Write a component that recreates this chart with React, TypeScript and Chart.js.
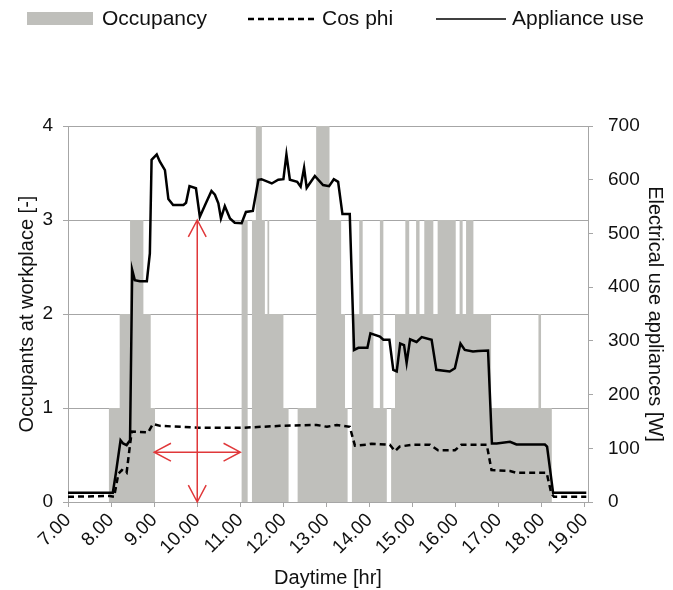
import { useEffect, useRef } from 'react';
import { Chart, registerables } from 'chart.js';

Chart.register(...registerables);

const hourTicks = [7, 8, 9, 10, 11, 12, 13, 14, 15, 16, 17, 18, 19];
const hourTickLabels = ['7.00', '8.00', '9.00', '10.00', '11.00', '12.00', '13.00', '14.00', '15.00', '16.00', '17.00', '18.00', '19.00'];

// Occupancy: each level holds from its time until the next time
const occupancyTimes = [7.0, 7.95, 8.2, 8.44, 8.75, 8.92, 9.02, 11.03, 11.17, 11.27, 11.36, 11.5, 11.57, 11.63, 11.67, 12.0, 12.12, 12.33, 12.76, 13.07, 13.34, 13.43, 13.49, 13.59, 13.76, 13.84, 14.09, 14.24, 14.32, 14.4, 14.5, 14.59, 14.83, 14.92, 15.08, 15.16, 15.27, 15.48, 15.58, 16.0, 16.09, 16.16, 16.24, 16.41, 16.82, 17.92, 17.98, 18.23, 19.07];
const occupancyLevels = [0, 1, 2, 3, 2, 1, 0, 3, 0, 3, 4, 3, 2, 3, 2, 1, 0, 1, 4, 3, 2, 1, 0, 2, 3, 2, 1, 3, 1, 0, 1, 2, 3, 2, 3, 2, 3, 2, 3, 2, 3, 2, 3, 2, 1, 2, 1, 0, 0];

const applianceTimes = [7.0, 7.97, 8.04, 8.11, 8.22, 8.28, 8.36, 8.44, 8.49, 8.55, 8.67, 8.83, 8.9, 8.94, 9.06, 9.13, 9.25, 9.33, 9.44, 9.68, 9.74, 9.82, 9.97, 10.06, 10.2, 10.33, 10.41, 10.49, 10.55, 10.64, 10.76, 10.87, 11.03, 11.13, 11.29, 11.42, 11.49, 11.73, 11.88, 12.0, 12.07, 12.15, 12.32, 12.4, 12.48, 12.54, 12.73, 12.92, 13.06, 13.17, 13.27, 13.37, 13.54, 13.64, 13.74, 13.95, 14.02, 14.24, 14.32, 14.46, 14.55, 14.63, 14.71, 14.8, 14.86, 14.94, 15.09, 15.21, 15.44, 15.55, 15.86, 15.98, 16.11, 16.21, 16.4, 16.52, 16.75, 16.84, 16.95, 17.26, 17.41, 18.07, 18.12, 18.26, 19.03];
const applianceWatts = [17, 17, 17, 53, 115, 109, 106, 115, 432, 413, 411, 411, 463, 637, 647, 634, 618, 564, 553, 553, 557, 588, 584, 531, 556, 579, 572, 556, 528, 551, 528, 520, 519, 540, 542, 600, 601, 593, 600, 601, 647, 600, 596, 587, 622, 585, 607, 590, 588, 601, 596, 536, 536, 283, 287, 287, 314, 308, 302, 302, 246, 243, 295, 292, 259, 303, 298, 307, 302, 246, 243, 249, 295, 283, 280, 281, 282, 109, 109, 112, 107, 107, 103, 17, 17];

const cosPhiTimes = [7.0, 7.97, 8.07, 8.17, 8.25, 8.36, 8.44, 8.48, 8.86, 8.97, 9.14, 10.03, 10.61, 11.07, 11.92, 12.77, 13.01, 13.24, 13.54, 13.66, 13.93, 14.05, 14.47, 14.59, 14.7, 15.01, 15.4, 15.59, 15.98, 16.13, 16.72, 16.83, 17.26, 17.41, 18.11, 18.22, 18.28, 19.03];
const cosPhiValues = [0.056, 0.064, 0.056, 0.3, 0.34, 0.31, 0.61, 0.75, 0.74, 0.83, 0.81, 0.79, 0.79, 0.79, 0.81, 0.82, 0.8, 0.82, 0.8, 0.6, 0.61, 0.62, 0.61, 0.54, 0.59, 0.61, 0.61, 0.55, 0.55, 0.61, 0.61, 0.34, 0.33, 0.31, 0.31, 0.09, 0.056, 0.056];

// Red annotation arrows (x in hours, y in occupants)
const verticalArrowX = [10.0, 10.0];
const verticalArrowY = [0, 3];
const horizontalArrowX = [9.0, 11.0];
const horizontalArrowY = [0.53, 0.53];

const FONT = "'Liberation Sans', Arial, sans-serif";
const GRID = '#a6a6a6';
const TEXT = '#111111';
const OCC_FILL = '#bfbfbb';

function drawArrow(ctx: CanvasRenderingContext2D, x1: number, y1: number, x2: number, y2: number) {
  const head = 19;
  const ang = (28 * Math.PI) / 180;
  ctx.beginPath();
  ctx.moveTo(x1, y1);
  ctx.lineTo(x2, y2);
  const ends: [number, number, number, number][] = [
    [x2, y2, x1, y1],
    [x1, y1, x2, y2],
  ];
  for (const [tx, ty, fx, fy] of ends) {
    const a = Math.atan2(ty - fy, tx - fx);
    ctx.moveTo(tx - head * Math.cos(a - ang), ty - head * Math.sin(a - ang));
    ctx.lineTo(tx, ty);
    ctx.lineTo(tx - head * Math.cos(a + ang), ty - head * Math.sin(a + ang));
  }
  ctx.stroke();
}

const arrowPlugin = {
  id: 'arrows',
  afterDatasetsDraw(chart: any) {
    const { ctx, scales } = chart;
    const x = scales.x;
    const y = scales.y;
    ctx.save();
    ctx.strokeStyle = '#e0383a';
    ctx.lineWidth = 1.5;
    drawArrow(ctx, x.getPixelForValue(verticalArrowX[0]), y.getPixelForValue(verticalArrowY[0]), x.getPixelForValue(verticalArrowX[1]), y.getPixelForValue(verticalArrowY[1]));
    drawArrow(ctx, x.getPixelForValue(horizontalArrowX[0]), y.getPixelForValue(horizontalArrowY[0]), x.getPixelForValue(horizontalArrowX[1]), y.getPixelForValue(horizontalArrowY[1]));
    ctx.restore();
  },
};

const legendPlugin = {
  id: 'customLegend',
  afterDraw(chart: any) {
    const { ctx } = chart;
    const ds = chart.data.datasets;
    ctx.save();
    ctx.font = `21px ${FONT}`;
    ctx.fillStyle = TEXT;
    ctx.textBaseline = 'middle';
    ctx.textAlign = 'left';
    // Occupancy
    ctx.fillStyle = ds[2].backgroundColor;
    ctx.fillRect(27, 12, 66, 13);
    ctx.fillStyle = TEXT;
    ctx.fillText(ds[2].label, 102, 19);
    // Cos phi
    ctx.strokeStyle = ds[1].borderColor;
    ctx.lineWidth = 2.5;
    ctx.setLineDash(ds[1].borderDash);
    ctx.beginPath();
    ctx.moveTo(248, 19);
    ctx.lineTo(318, 19);
    ctx.stroke();
    ctx.setLineDash([]);
    ctx.fillText(ds[1].label, 322, 19);
    // Appliance use
    ctx.strokeStyle = ds[0].borderColor;
    ctx.lineWidth = 1.5;
    ctx.beginPath();
    ctx.moveTo(436, 19);
    ctx.lineTo(506, 19);
    ctx.stroke();
    ctx.fillText(ds[0].label, 512, 19);
    ctx.restore();
  },
};

export default function App() {
  const ref = useRef<HTMLCanvasElement | null>(null);
  useEffect(() => {
    if (!ref.current) return;
    const chart = new Chart(ref.current, {
      type: 'line',
      data: {
        datasets: [
          {
            label: 'Appliance use',
            data: applianceTimes.map((t, i) => ({ x: t, y: applianceWatts[i] })),
            yAxisID: 'y1',
            borderColor: '#000000',
            borderWidth: 2.5,
            pointRadius: 0,
            fill: false,
            tension: 0,
            order: 0,
          },
          {
            label: 'Cos phi',
            data: cosPhiTimes.map((t, i) => ({ x: t, y: cosPhiValues[i] })),
            yAxisID: 'y',
            borderColor: '#000000',
            borderWidth: 2.5,
            borderDash: [6, 4],
            pointRadius: 0,
            fill: false,
            tension: 0,
            order: 1,
          },
          {
            label: 'Occupancy',
            data: occupancyTimes.map((t, i) => ({ x: t, y: occupancyLevels[i] })),
            yAxisID: 'y',
            stepped: true,
            borderWidth: 0,
            borderColor: 'rgba(0,0,0,0)',
            backgroundColor: OCC_FILL,
            fill: 'origin',
            pointRadius: 0,
            order: 2,
          },
        ],
      },
      options: {
        responsive: false,
        animation: false,
        devicePixelRatio: 1,
        layout: { padding: { top: 126, left: 0, right: 0, bottom: 0 } },
        plugins: {
          legend: { display: false },
          tooltip: { enabled: false },
        },
        scales: {
          x: {
            type: 'linear',
            position: 'bottom',
            min: 7,
            max: 19.07,
            afterBuildTicks: (scale: any) => {
              scale.ticks = hourTicks.map((v) => ({ value: v }));
            },
            afterFit: (scale: any) => {
              scale.height = 88;
            },
            ticks: {
              autoSkip: false,
              maxRotation: 45,
              minRotation: 45,
              padding: 2,
              color: TEXT,
              font: { family: FONT, size: 19 },
              callback: (_v: any, i: number) => hourTickLabels[i],
            },
            grid: { drawOnChartArea: false, drawTicks: true, tickLength: 5, color: GRID },
            border: { display: true, color: GRID, width: 1 },
            title: {
              display: true,
              text: 'Daytime [hr]',
              color: TEXT,
              font: { family: FONT, size: 20 },
              padding: { top: 0, bottom: 0 },
            },
          },
          y: {
            type: 'linear',
            position: 'left',
            min: 0,
            max: 4,
            afterFit: (scale: any) => {
              scale.width = 68;
            },
            ticks: {
              stepSize: 1,
              padding: 10,
              color: TEXT,
              font: { family: FONT, size: 19 },
            },
            grid: { color: GRID, lineWidth: 1, drawTicks: true, tickLength: 5 },
            border: { display: true, color: GRID, width: 1 },
            title: {
              display: true,
              text: 'Occupants at workplace [-]',
              color: TEXT,
              font: { family: FONT, size: 20 },
              padding: { top: 15, bottom: 0 },
            },
          },
          y1: {
            type: 'linear',
            position: 'right',
            min: 0,
            max: 700,
            afterFit: (scale: any) => {
              scale.width = 85;
            },
            ticks: {
              stepSize: 100,
              padding: 15,
              color: TEXT,
              font: { family: FONT, size: 19 },
            },
            grid: { drawOnChartArea: false, drawTicks: true, tickLength: 5, color: GRID },
            border: { display: true, color: GRID, width: 1 },
            title: {
              display: true,
              text: 'Electrical use appliances [W]',
              color: TEXT,
              font: { family: FONT, size: 20 },
              padding: { top: 6, bottom: 0 },
            },
          },
        },
      } as any,
      plugins: [arrowPlugin, legendPlugin],
    });
    return () => chart.destroy();
  }, []);

  return (
    <div style={{ position: 'absolute', left: 0, top: 0, width: 673, height: 590, background: '#ffffff' }}>
      <canvas ref={ref} width={673} height={590} style={{ display: 'block' }} />
    </div>
  );
}
